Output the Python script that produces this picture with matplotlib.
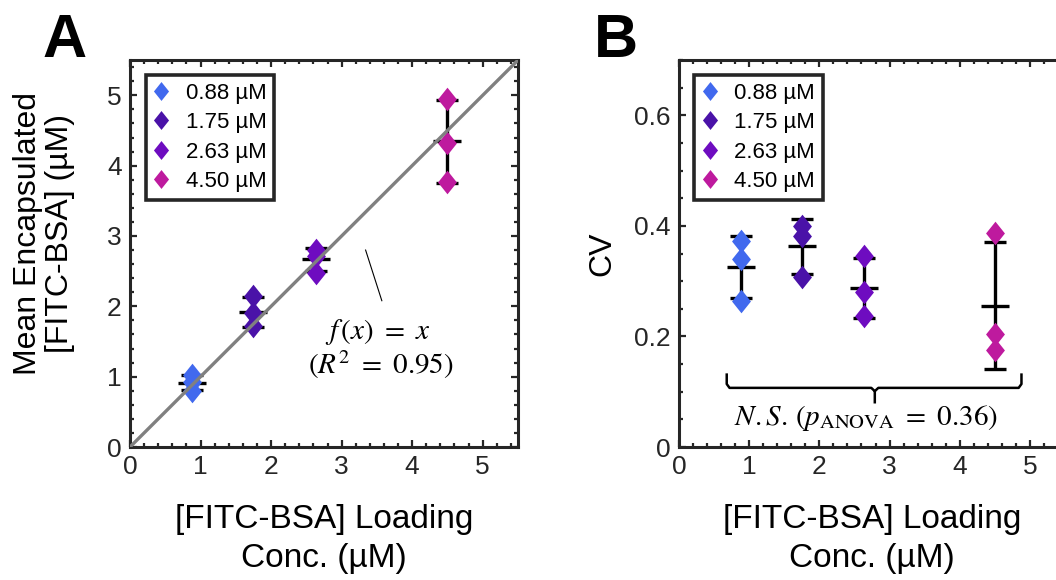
import matplotlib
matplotlib.use('Agg')
import matplotlib.pyplot as plt
import numpy as np
from matplotlib.path import Path
from matplotlib.ticker import MultipleLocator, FuncFormatter

plt.rcParams['font.family'] = ['Liberation Sans', 'DejaVu Sans']
plt.rcParams['mathtext.fontset'] = 'stix'

# loading concentrations (uM)
loading = [0.88, 1.75, 2.63, 4.50]
labels = ['0.88 µM', '1.75 µM', '2.63 µM', '4.50 µM']
colors = ['#4169EE', '#4A12A8', '#6E0CC0', '#BE1A9E']

# encapsulated conc., three replicates per loading
encap = [[1.02, 0.93, 0.80],
         [2.15, 1.90, 1.72],
         [2.80, 2.72, 2.48],
         [4.95, 4.32, 3.77]]

# coefficient of variation, three replicates per loading
cv = [[0.373, 0.340, 0.264],
      [0.400, 0.382, 0.307],
      [0.345, 0.280, 0.237],
      [0.387, 0.204, 0.175]]

r2 = 0.95
p_anova = 0.36

frame = '#262626'
lw = 2.2

# slightly tall diamond like matlab's
diamond = Path([(0, 1), (0.8, 0), (0, -1), (-0.8, 0), (0, 1)],
               [Path.MOVETO, Path.LINETO, Path.LINETO, Path.LINETO,
                Path.CLOSEPOLY])


def style_axes(ax):
    for s in ax.spines.values():
        s.set_linewidth(lw)
        s.set_color(frame)
    ax.tick_params(which='both', direction='in', top=True, right=True,
                   color=frame, labelcolor=frame, labelsize=19, width=1.6)
    ax.tick_params(which='major', length=5, pad=6)
    ax.tick_params(which='minor', length=3)


def draw_groups(ax, data):
    for xv, pts, c, lab in zip(loading, data, colors, labels):
        pts = np.array(pts)
        m = pts.mean()
        sd = pts.std(ddof=1)
        ax.errorbar(xv, m, yerr=sd, fmt='none', ecolor='black',
                    elinewidth=2.4, capsize=8, capthick=2.4, zorder=2)
        ax.plot(xv, m, marker='_', color='black', markersize=20,
                markeredgewidth=2.4, zorder=2)
        ax.plot([xv] * len(pts), pts, ls='none', marker=diamond,
                markersize=17, color=c, markeredgewidth=0, label=lab,
                zorder=3)
    h, l = ax.get_legend_handles_labels()
    leg = ax.legend(h, l, loc='upper left', fontsize=16, handlelength=0.7,
                    handletextpad=0.75, labelspacing=0.38, borderpad=0.35,
                    borderaxespad=0, fancybox=False, framealpha=1,
                    edgecolor=frame, markerscale=0.8,
                    bbox_to_anchor=(0.04, 0.962))
    leg.get_frame().set_linewidth(2.6)


fig = plt.figure(figsize=(10.56, 5.8), dpi=100)

# ---- A: encapsulated vs loading ----
axA = fig.add_axes([0.1231, 0.2293, 0.3674, 0.667])
line_x = np.array([0, 5.5])
axA.plot(line_x, line_x, color='#808080', lw=2.4, zorder=4)
draw_groups(axA, encap)
axA.set_xlim(0, 5.5)
axA.set_ylim(0, 5.5)
axA.xaxis.set_major_locator(MultipleLocator(1))
axA.yaxis.set_major_locator(MultipleLocator(1))
axA.xaxis.set_minor_locator(MultipleLocator(0.2))
axA.yaxis.set_minor_locator(MultipleLocator(0.2))
style_axes(axA)
axA.set_xlabel('[FITC-BSA] Loading\nConc. (µM)', fontsize=24, color='black',
               labelpad=18, linespacing=1.3)
axA.set_ylabel('Mean Encapsulated\n[FITC-BSA] (µM)', fontsize=23,
               color='black', linespacing=1.1)
axA.yaxis.set_label_coords(-0.142, 0.552)
axA.plot([3.34, 3.57], [2.80, 2.08], color='black', lw=0.8)
axA.text(3.52, 1.63, r'$f\,(x)\ =\ x$', fontsize=21, ha='center',
         va='center')
axA.text(3.55, 1.17, r'$(R^2\ =\ %.2f)$' % r2, fontsize=21, ha='center',
         va='center')
fig.text(0.061, 0.928, 'A', fontsize=44, fontweight='bold', ha='center',
         va='center')

# ---- B: CV vs loading ----
axB = fig.add_axes([0.643, 0.2293, 0.3655, 0.667])
draw_groups(axB, cv)
axB.set_xlim(0, 5.5)
axB.set_ylim(0, 0.7)
axB.xaxis.set_major_locator(MultipleLocator(1))
axB.yaxis.set_major_locator(MultipleLocator(0.2))
axB.xaxis.set_minor_locator(MultipleLocator(0.2))
axB.yaxis.set_minor_locator(MultipleLocator(0.05))
axB.yaxis.set_major_formatter(FuncFormatter(lambda v, p: '0' if v == 0 else '%.1f' % v))
style_axes(axB)
axB.set_xlabel('[FITC-BSA] Loading\nConc. (µM)', fontsize=24, color='black',
               labelpad=18, linespacing=1.3)
axB.set_ylabel('CV', fontsize=23, color='black', labelpad=12)

# brace spanning all groups
bx0, bx1, bxc = 0.68, 4.88, 2.79
by_top, by, by_tip = 0.131, 0.107, 0.081
axB.plot([bx0, bx0, bx0 + 0.04, bxc - 0.05, bxc, bxc],
         [by_top, by + 0.007, by, by, by - 0.006, by_tip],
         color='black', lw=1.8, solid_joinstyle='round')
axB.plot([bxc, bxc + 0.05, bx1 - 0.04, bx1, bx1],
         [by - 0.006, by, by, by + 0.007, by_top],
         color='black', lw=1.8, solid_joinstyle='round')
axB.text(2.66, 0.053, r'$N.S.\,(p_{\mathrm{ANOVA}}\ =\ %.2f)$' % p_anova,
         fontsize=21, ha='center', va='center')
fig.text(0.583, 0.928, 'B', fontsize=44, fontweight='bold', ha='center',
         va='center')

fig.savefig('out.png', dpi=100)
